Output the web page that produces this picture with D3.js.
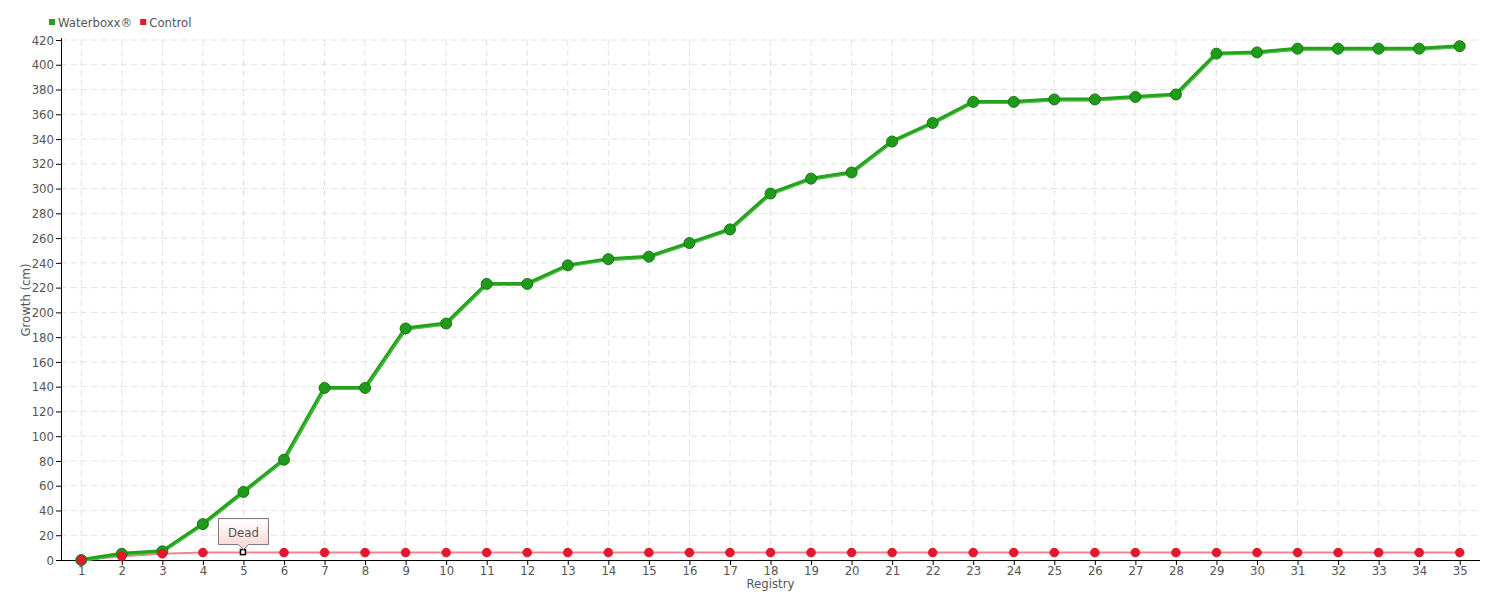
<!DOCTYPE html>
<html><head><meta charset="utf-8">
<script src="https://cdn.jsdelivr.net/npm/d3@7"></script>
<style>
body{margin:0;background:#fff;}
text{font-family:"DejaVu Sans Condensed","DejaVu Sans",sans-serif;font-stretch:condensed;fill:#555;}
</style></head>
<body><svg id="c" width="1500" height="600"></svg>
<script>
const registry = d3.range(1, 36).map(String);
const waterboxx = [0,5,7,29,55,81,139,139,187,191,223,223,238,243,245,256,267,296,308,313,338,353,370,370,372,372,374,376,409,410,413,413,413,413,415];
const control = [0,3,5,6,6,6,6,6,6,6,6,6,6,6,6,6,6,6,6,6,6,6,6,6,6,6,6,6,6,6,6,6,6,6,6];
const yTicks = d3.range(0, 421, 20);
const seriesNames = ["Waterboxx®", "Control"];
const annotation = {index: 4, label: "Dead"};

const FONT = '"DejaVu Sans Condensed","DejaVu Sans",sans-serif';
const svg = d3.select("#c");
const L = 61, R = 1480, T = 40, B = 560;
const x = d3.scalePoint().domain(registry).range([L, R]).padding(0.5);
const y = d3.scaleLinear().domain([0, 420]).range([B, T]);

// grid
const g = svg.append("g");
g.selectAll("line.h").data(yTicks.slice(1)).join("line")
  .attr("x1", L).attr("x2", R - 2).attr("y1", d => y(d)).attr("y2", d => y(d))
  .attr("stroke", "#e2e2e2").attr("stroke-dasharray", "6,4");
g.selectAll("line.v").data(registry).join("line")
  .attr("x1", d => x(d)).attr("x2", d => x(d)).attr("y1", T).attr("y2", B)
  .attr("stroke", "#e2e2e2").attr("stroke-dasharray", "6,4");

// axes
const ya = svg.append("g").attr("transform", `translate(${L},0)`)
  .call(d3.axisLeft(y).tickValues(yTicks).tickSize(5).tickPadding(2));
const xa = svg.append("g").attr("transform", `translate(0,${B})`)
  .call(d3.axisBottom(x).tickSize(5).tickPadding(1));
[ya, xa].forEach(a => {
  a.select(".domain").remove();
  a.selectAll(".tick line").attr("stroke", "#000");
  a.selectAll(".tick text").attr("fill", "#555").style("font-size", "13px")
   .style("font-family", FONT).style("font-stretch", "condensed");
});
svg.append("line").attr("x1", L + 0.5).attr("x2", L + 0.5).attr("y1", T - 2).attr("y2", B).attr("stroke", "#000");
svg.append("line").attr("x1", L).attr("x2", R).attr("y1", B + 0.5).attr("y2", B + 0.5).attr("stroke", "#000");

// axis titles
svg.append("text").attr("transform", `translate(30,${(T + B) / 2}) rotate(-90)`)
  .attr("text-anchor", "middle").style("font-size", "13px").text("Growth (cm)");
svg.append("text").attr("x", (L + R) / 2).attr("y", 588)
  .attr("text-anchor", "middle").style("font-size", "13px").text("Registry");

// lines
const line = d3.line().x((d, i) => x(registry[i])).y(d => y(d));
svg.append("path").datum(control).attr("d", line).attr("fill", "none")
  .attr("stroke", "#f4838f").attr("stroke-width", 2);
svg.append("path").datum(waterboxx).attr("d", line).attr("fill", "none")
  .attr("stroke", "#22a31a").attr("stroke-width", 4);
svg.append("path").datum(waterboxx).attr("d", line).attr("fill", "none")
  .attr("stroke", "#7fd47a").attr("stroke-width", 1).attr("transform", "translate(0,1.5)").attr("opacity", 0.6);

svg.selectAll("circle.w").data(waterboxx).join("circle").attr("class", "w")
  .attr("cx", (d, i) => x(registry[i])).attr("cy", d => y(d)).attr("r", 5.5)
  .attr("fill", "#1f9a1a").attr("stroke", "#177a13").attr("stroke-width", 1);
const ctrlPts = control.map((v, i) => ({v, i})).filter(d => d.i !== annotation.index);
svg.selectAll("circle.c").data(ctrlPts).join("circle").attr("class", "c")
  .attr("cx", d => x(registry[d.i])).attr("cy", d => y(d.v)).attr("r", 4.5)
  .attr("fill", "#e8162c").attr("stroke", "#c80f22").attr("stroke-width", 0.5);

// annotation
const ax = x(registry[annotation.index]), ay = y(control[annotation.index]);
const defs = svg.append("defs");
const gr = defs.append("linearGradient").attr("id", "pk").attr("x1", 0).attr("x2", 0).attr("y1", 0).attr("y2", 1);
gr.append("stop").attr("offset", 0).attr("stop-color", "#ffffff");
gr.append("stop").attr("offset", 1).attr("stop-color", "#fbd3d3");
svg.append("rect").attr("x", ax - 3).attr("y", ay - 3).attr("width", 5).attr("height", 5)
  .attr("fill", "#fff").attr("stroke", "#000").attr("stroke-width", 1.5);
const bw = 50, bh = 26, by = ay - 34;
svg.append("path")
  .attr("d", `M${ax - bw / 2},${by} h${bw} v${bh} h${-bw / 2 + 5} l-5,5 l-5,-5 h${-bw / 2 + 5} Z`)
  .attr("fill", "url(#pk)").attr("stroke", "#777").attr("stroke-width", 1);
svg.append("text").attr("x", ax).attr("y", by + 18).attr("text-anchor", "middle")
  .style("font-size", "13px").text(annotation.label);

// legend
const leg = svg.append("g").attr("transform", "translate(49,22)");
const colors = ["#22a31a", "#e8162c"];
let lx = 0;
seriesNames.forEach((n, i) => {
  leg.append("rect").attr("x", lx).attr("y", -3).attr("width", 6).attr("height", 6).attr("fill", colors[i]);
  const t = leg.append("text").attr("x", lx + 9).attr("y", 5).style("font-size", "13px").text(n);
  lx += 9 + t.node().getComputedTextLength() + 8;
});
</script></body></html>
